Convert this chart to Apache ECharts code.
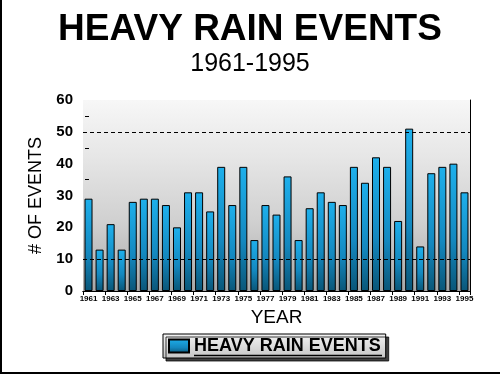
<!DOCTYPE html>
<html>
<head>
<meta charset="utf-8">
<script src="https://cdn.jsdelivr.net/npm/echarts@6/dist/echarts.min.js"></script>
<style>
  body { margin: 0; background: #fff; }
  #wrap { position: relative; width: 500px; height: 375px; }
  #chart { width: 500px; height: 375px; }
  #frame {
    position: absolute; left: 0; top: 0; width: 498px; height: 372px;
    border-left: 2px solid #000; border-bottom: 2px solid #000;
    pointer-events: none;
  }
</style>
</head>
<body>
<div id="wrap">
  <div id="chart"></div>
  <div id="frame"></div>
</div>
<script>
const years = [
  '1961', '1962', '1963', '1964', '1965', '1966', '1967', '1968', '1969', '1970',
  '1971', '1972', '1973', '1974', '1975', '1976', '1977', '1978', '1979', '1980',
  '1981', '1982', '1983', '1984', '1985', '1986', '1987', '1988', '1989', '1990',
  '1991', '1992', '1993', '1994', '1995'
]
const events = [
  29, 13, 21, 13, 28, 29, 29, 27, 20, 31,
  31, 25, 39, 27, 39, 16, 27, 24, 36, 16,
  26, 31, 28, 27, 39, 34, 42, 39, 22, 51,
  14, 37, 39, 40, 31
]
const dashedLevels = [10, 50]

const chart = echarts.init(document.getElementById('chart'))

chart.setOption({
  animation: false,
  title: [
    {
      text: 'HEAVY RAIN EVENTS',
      left: 'center',
      top: 6,
      textStyle: { fontFamily: 'Liberation Sans', fontSize: 37, fontWeight: 'bold', color: '#000' }
    },
    {
      text: '1961-1995',
      left: 'center',
      top: 47,
      textStyle: { fontFamily: 'Liberation Sans', fontSize: 25, fontWeight: 'normal', color: '#000' }
    }
  ],
  legend: {
    left: 163,
    top: 334,
    icon: 'rect',
    itemWidth: 20,
    itemHeight: 13,
    itemGap: 4,
    padding: [3, 5, 3, 5],
    borderColor: '#000',
    borderWidth: 1,
    backgroundColor: {
      type: 'linear', x: 0, y: 0, x2: 0, y2: 1,
      colorStops: [
        { offset: 0, color: '#f4f4f4' },
        { offset: 1, color: '#c4c4c4' }
      ]
    },
    shadowColor: 'rgba(0, 0, 0, 0.75)',
    shadowOffsetX: 3,
    shadowOffsetY: 3,
    shadowBlur: 0,
    textStyle: { fontFamily: 'Liberation Sans', fontSize: 18, fontWeight: 'bold', color: '#000' }
  },
  graphic: [
    {
      type: 'line',
      z: 100,
      shape: { x1: 194, y1: 355.5, x2: 382, y2: 355.5 },
      style: { stroke: '#000', lineWidth: 1.5 }
    }
  ],
  grid: {
    left: 83,
    right: 30,
    top: 100,
    bottom: 84,
    show: true,
    borderWidth: 0,
    backgroundColor: {
      type: 'linear', x: 0, y: 0, x2: 0, y2: 1,
      colorStops: [
        { offset: 0, color: '#f7f7f7' },
        { offset: 0.3, color: '#e6e6e6' },
        { offset: 0.65, color: '#cfcfcf' },
        { offset: 1, color: '#a9a9a9' }
      ]
    }
  },
  xAxis: [
    {
      type: 'category',
      data: years,
      name: 'YEAR',
      nameLocation: 'middle',
      nameGap: 16,
      nameTextStyle: { fontFamily: 'Liberation Sans', fontSize: 19, color: '#000' },
      axisLine: { lineStyle: { color: '#000', width: 1 } },
      axisTick: { show: true, interval: 1, length: 4, lineStyle: { color: '#000' } },
      axisLabel: {
        interval: 1,
        margin: 4,
        fontFamily: 'Liberation Sans',
        fontSize: 8,
        fontWeight: 'bold',
        color: '#000'
      }
    },
    {
      type: 'category',
      data: years,
      position: 'top',
      axisLine: { lineStyle: { color: '#000', width: 1 } },
      axisTick: { show: false },
      axisLabel: { show: false }
    }
  ],
  yAxis: [
    {
      type: 'value',
      min: 0,
      max: 60,
      interval: 10,
      offset: -6,
      name: '# OF EVENTS',
      nameLocation: 'middle',
      nameGap: 44,
      nameTextStyle: { fontFamily: 'Liberation Sans', fontSize: 18, color: '#000' },
      axisLine: { show: false },
      axisTick: { show: false },
      minorTick: { show: true, splitNumber: 2, length: 4, lineStyle: { color: '#000' } },
      splitLine: { show: false },
      axisLabel: {
        margin: 16,
        fontFamily: 'Liberation Sans',
        fontSize: 15,
        fontWeight: 'bold',
        color: '#000'
      }
    },
    {
      type: 'value',
      min: 0,
      max: 60,
      interval: 10,
      position: 'right',
      axisLine: { show: true, lineStyle: { color: '#000', width: 1 } },
      axisTick: { show: false },
      axisLabel: { show: false },
      splitLine: { show: false }
    }
  ],
  series: [
    {
      name: 'HEAVY RAIN EVENTS',
      type: 'bar',
      barWidth: 8,
      data: events,
      itemStyle: {
        borderColor: '#000',
        borderWidth: 1,
        color: {
          type: 'linear', x: 0, y: 0, x2: 0, y2: 1,
          colorStops: [
            { offset: 0, color: '#1eb0ec' },
            { offset: 0.6, color: '#1488bf' },
            { offset: 1, color: '#0a5678' }
          ]
        }
      },
      markLine: {
        silent: true,
        symbol: 'none',
        label: { show: false },
        lineStyle: { color: '#000', type: [4, 3], width: 1 },
        data: dashedLevels.map((v) => ({ yAxis: v }))
      }
    }
  ]
})
</script>
</body>
</html>
